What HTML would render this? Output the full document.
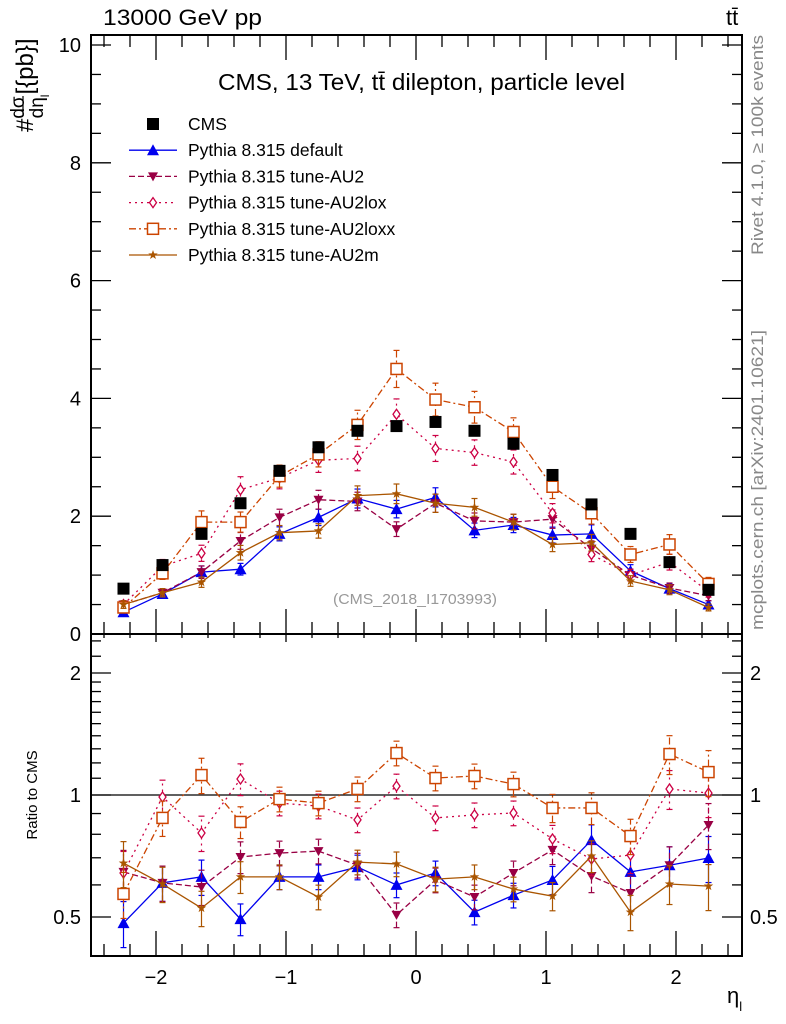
<!DOCTYPE html>
<html><head><meta charset="utf-8"><style>
body{margin:0;background:#fff}
svg{display:block;font-family:"Liberation Sans",sans-serif}
</style></head><body>
<svg id="c" width="786" height="1024" viewBox="0 0 786 1024" xmlns="http://www.w3.org/2000/svg">
<text x="103" y="25" font-size="22" textLength="159" lengthAdjust="spacingAndGlyphs">13000 GeV pp</text>
<text x="726" y="25" font-size="22">tt̄</text>
<text x="218" y="90" font-size="23" textLength="407" lengthAdjust="spacingAndGlyphs">CMS, 13 TeV, tt̄ dilepton, particle level</text>
<text x="333" y="604" font-size="15" fill="#999" textLength="164" lengthAdjust="spacingAndGlyphs">(CMS_2018_I1703993)</text>
<text transform="translate(763,255) rotate(-90)" font-size="17" fill="#888" textLength="220" lengthAdjust="spacingAndGlyphs">Rivet 4.1.0, ≥ 100k events</text>
<text transform="translate(763,630) rotate(-90)" font-size="17" fill="#888" textLength="300" lengthAdjust="spacingAndGlyphs">mcplots.cern.ch [arXiv:2401.10621]</text>
<text transform="translate(33,132) rotate(-90)" font-size="24">#<tspan font-size="19" dy="-9">dσ</tspan><tspan font-size="19" dx="-22" dy="19">dη</tspan><tspan font-size="12" dy="6">l</tspan><tspan dy="-16">[{pb}]</tspan></text>
<line x1="23" y1="116" x2="23" y2="96" stroke="#000" stroke-width="1.2"/>
<text transform="translate(37,795) rotate(-90)" font-size="15" text-anchor="middle">Ratio to CMS</text>
<text x="727" y="1003" font-size="22">η<tspan font-size="13" dy="8">l</tspan></text>
<g id="g"></g>
</svg>
<script>
const categories=[-2.25,-1.95,-1.65,-1.35,-1.05,-0.75,-0.45,-0.15,0.15,0.45,0.75,1.05,1.35,1.65,1.95,2.25];
const cms=[0.77,1.17,1.70,2.22,2.77,3.17,3.45,3.53,3.60,3.45,3.23,2.70,2.20,1.70,1.22,0.75];
const pDefault=[0.37,0.68,1.05,1.10,1.70,1.98,2.30,2.12,2.32,1.76,1.85,1.68,1.70,1.07,0.77,0.50];
const pAU2=[0.50,0.70,1.05,1.58,1.98,2.28,2.25,1.78,2.22,1.92,1.90,1.95,1.45,1.00,0.78,0.65];
const pAU2lox=[0.50,1.15,1.37,2.45,2.65,2.95,2.98,3.73,3.15,3.08,2.92,2.05,1.35,1.00,1.22,0.72];
const pAU2loxx=[0.45,1.03,1.90,1.90,2.68,3.05,3.55,4.50,3.98,3.85,3.43,2.50,2.05,1.35,1.52,0.85];
const pAU2m=[0.50,0.70,0.88,1.38,1.72,1.75,2.35,2.38,2.22,2.15,1.90,1.52,1.55,0.90,0.75,0.45];
const rDefault=[0.483,0.607,0.628,0.494,0.628,0.628,0.664,0.600,0.642,0.514,0.566,0.617,0.774,0.646,0.671,0.699];
const rAU2=[0.646,0.607,0.593,0.703,0.719,0.727,0.671,0.506,0.617,0.560,0.642,0.732,0.631,0.573,0.671,0.843];
const rAU2lox=[0.642,0.989,0.806,1.095,0.955,0.939,0.868,1.052,0.878,0.893,0.903,0.779,0.695,0.711,1.035,1.011];
const rAU2loxx=[0.570,0.878,1.120,0.858,0.977,0.955,1.035,1.269,1.101,1.114,1.064,0.929,0.929,0.792,1.262,1.139];
const rAU2m=[0.679,0.603,0.526,0.628,0.628,0.560,0.683,0.676,0.620,0.628,0.586,0.563,0.707,0.514,0.603,0.596];
const relErr=[0.13,0.1,0.1,0.09,0.07,0.07,0.07,0.07,0.07,0.07,0.07,0.08,0.09,0.1,0.11,0.13];
const yTicks=[0,2,4,6,8,10];
const xTicks=[-2,-1,0,1,2];
const rTicks=[0.5,1,2];

const L=91,R=742,T=35,MB=634,RB=956;
const X=v=>416+v*130;
const Y=v=>634-v*58.9;
const RY=v=>795-122*Math.log2(v);
const NS='http://www.w3.org/2000/svg';
const g=document.getElementById('g');
function el(t,a,p){const e=document.createElementNS(NS,t);for(const k in a)e.setAttribute(k,a[k]);(p||g).appendChild(e);return e;}
function ln(x1,y1,x2,y2,p,w){return el('line',{x1,y1,x2,y2,stroke:'#000','stroke-width':w||1.3},p);}

const fr=el('g',{});


el('rect',{x:L,y:T,width:R-L,height:MB-T,fill:'none',stroke:'#000','stroke-width':2},fr);
el('rect',{x:L,y:MB,width:R-L,height:RB-MB,fill:'none',stroke:'#000','stroke-width':2},fr);
for(let v=-2.4;v<=2.41;v+=0.2){const x=X(v);const maj=Math.abs(v-Math.round(v))<0.01;const l=maj?25:12;
 ln(x,MB,x,MB-l,fr);ln(x,T,x,T+(maj?25:12),fr);ln(x,RB,x,RB-l,fr);ln(x,MB,x,MB+(maj?8:4),fr);}
for(let v=0;v<=10.01;v+=0.5){const y=Y(v);const maj=Math.abs(v%2)<0.01;const l=maj?20:10;ln(L,y,L+l,y,fr);ln(R,y,R-l,y,fr);}
yTicks.forEach(v=>{const t=el('text',{x:L-10,y:Y(v)+7,'font-size':20,'text-anchor':'end'});t.textContent=v;
 
 });
xTicks.forEach(v=>{const t=el('text',{x:X(v),y:RB+28,'font-size':20,'text-anchor':'middle'});t.textContent=(v<0?'\u2212':'')+Math.abs(v);
 
 });
[0.4,0.6,0.7,0.8,0.9,1.1,1.2,1.3,1.4,1.5,1.6,1.7,1.8,1.9,2.2,2.4].forEach(v=>{const y=RY(v);ln(L,y,L+10,y,fr);ln(R,y,R-10,y,fr);});
rTicks.forEach(v=>{const y=RY(v);ln(L,y,L+20,y,fr);ln(R,y,R-20,y,fr);
 const t=el('text',{x:L-10,y:y+7,'font-size':20,'text-anchor':'end'});t.textContent=v;
 
 
 const t2=el('text',{x:R+8,y:y+7,'font-size':20});t2.textContent=v;
 
 });
ln(L,RY(1),R,RY(1),fr,1.3);

function marker(type,x,y,c,p){
 if(type==='sq')return el('rect',{x:x-6,y:y-6,width:12,height:12,fill:'#000'},p);
 if(type==='tri')return el('polygon',{points:`${x},${y-6} ${x-6},${y+5} ${x+6},${y+5}`,fill:c},p);
 if(type==='tdn')return el('polygon',{points:`${x},${y+5} ${x-5},${y-4} ${x+5},${y-4}`,fill:c},p);
 if(type==='dia')return el('polygon',{points:`${x},${y-5} ${x-3.5},${y} ${x},${y+5} ${x+3.5},${y}`,fill:'#fff',stroke:c,'stroke-width':1.3},p);
 if(type==='osq')return el('rect',{x:x-5.5,y:y-5.5,width:11,height:11,fill:'#fff',stroke:c,'stroke-width':1.5},p);
 if(type==='star'){let pts=[];for(let i=0;i<10;i++){const r=i%2?2:5,a=-Math.PI/2+i*Math.PI/5;pts.push((x+r*Math.cos(a))+','+(y+r*Math.sin(a)));}return el('polygon',{points:pts.join(' '),fill:c},p);}
}
const series=[
 {n:'pythia-default',main:pDefault,ratio:rDefault,c:'#0000ee',d:'',m:'tri',label:'Pythia 8.315 default'},
 {n:'pythia-au2',main:pAU2,ratio:rAU2,c:'#990044',d:'6,3',m:'tdn',label:'Pythia 8.315 tune-AU2'},
 {n:'pythia-au2lox',main:pAU2lox,ratio:rAU2lox,c:'#cc0044',d:'2,4',m:'dia',label:'Pythia 8.315 tune-AU2lox'},
 {n:'pythia-au2loxx',main:pAU2loxx,ratio:rAU2loxx,c:'#cc4400',d:'7,3,2,3',m:'osq',label:'Pythia 8.315 tune-AU2loxx'},
 {n:'pythia-au2m',main:pAU2m,ratio:rAU2m,c:'#aa5500',d:'',m:'star',label:'Pythia 8.315 tune-AU2m'}];
function drawSeries(s,vals,yf,lo,hi,tag){
 const sg=el('g',{});
 
 
 const pts=categories.map((c,i)=>[X(c),yf(vals[i])]);
 el('polyline',{points:pts.map(p=>p.join(',')).join(' '),fill:'none',stroke:s.c,'stroke-width':1.3,'stroke-dasharray':s.d},sg);
 categories.forEach((c,i)=>{const x=X(c);
  let a=yf(vals[i]*(1-relErr[i])),b=yf(vals[i]*(1+relErr[i]));
  a=Math.min(a,hi);b=Math.max(b,lo);
  el('line',{x1:x,y1:a,x2:x,y2:b,stroke:s.c,'stroke-width':1.2,'stroke-dasharray':s.d},sg);
  el('line',{x1:x-3,y1:a,x2:x+3,y2:a,stroke:s.c,'stroke-width':1.2},sg);
  el('line',{x1:x-3,y1:b,x2:x+3,y2:b,stroke:s.c,'stroke-width':1.2},sg);
  const mk=marker(s.m,x,yf(vals[i]),s.c,sg);
  
  
 });
}
series.forEach(s=>{drawSeries(s,s.main,Y,T,MB,'main');drawSeries(s,s.ratio,RY,MB,RB,'ratio');});
const cg=el('g',{});


categories.forEach((c,i)=>{const m=marker('sq',X(c),Y(cms[i]),'#000',cg);
 
 });

const lg=el('g',{});


const rows=[{m:'sq',c:'#000',d:null,label:'CMS'}].concat(series);
rows.forEach((s,i)=>{const y=124+i*26.2;
 const eg=el('g',{},lg);
 
 
 if(s.d!==null)el('line',{x1:129,y1:y,x2:177,y2:y,stroke:s.c,'stroke-width':1.3,'stroke-dasharray':s.d},eg);
 marker(s.m,153,y,s.c,eg);
 const t=el('text',{x:188,y:y+6,'font-size':17.5},eg);t.textContent=s.label;});
</script>
</body></html>
